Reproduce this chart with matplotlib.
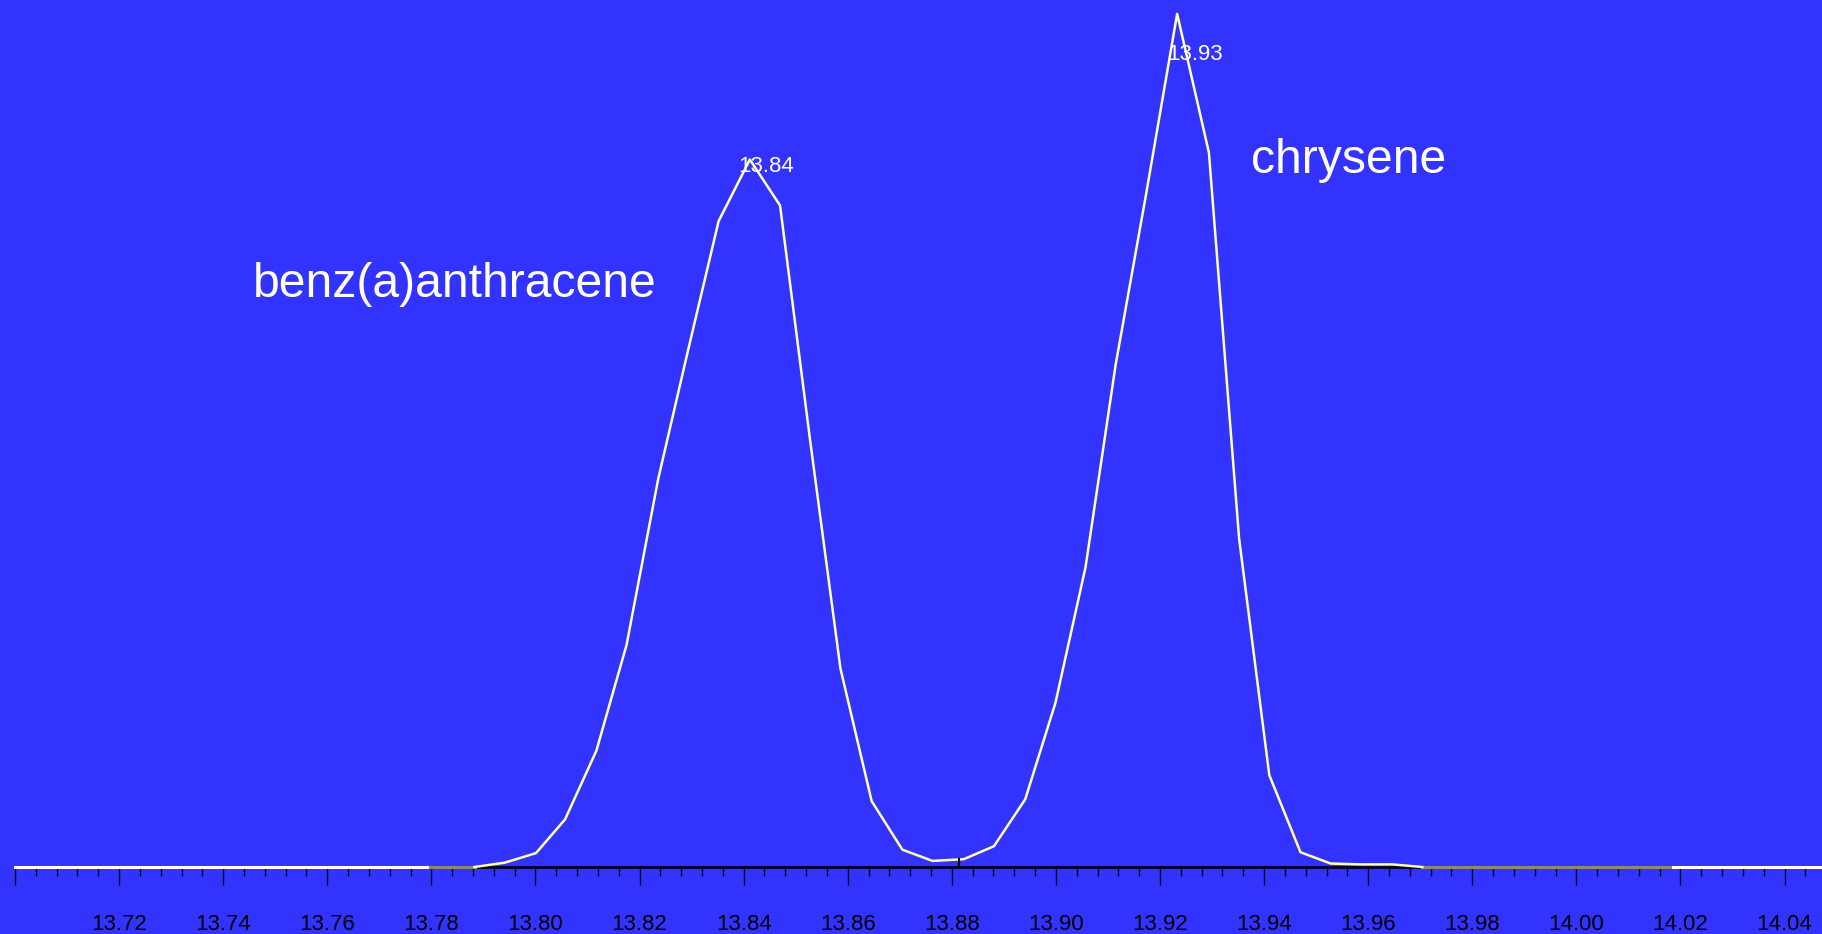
import matplotlib
matplotlib.use("Agg")
import matplotlib.pyplot as plt
from matplotlib.ticker import MultipleLocator, FixedLocator

# ---- data (retention time in min, abundance in arbitrary units) ----
times = [13.7798, 13.7883, 13.7941, 13.8001, 13.8057, 13.8117, 13.8175, 13.8236,
         13.8294, 13.8352, 13.8412, 13.8470, 13.8528, 13.8586, 13.8646, 13.8705,
         13.8763, 13.8823, 13.8881, 13.8941, 13.8999, 13.9057, 13.9115, 13.9173,
         13.9233, 13.9294, 13.9352, 13.9410, 13.9470, 13.9528, 13.9586, 13.9646,
         13.9704]
abund = [0, 0, 5, 16, 55, 134, 256, 448, 598, 745, 816, 763, 491, 229, 76, 20,
         7, 9, 24, 78, 189, 346, 580, 775, 984, 824, 379, 106, 17, 4, 3, 3, 0]

left_base_t = [13.70, 13.7798]
right_gray_t = [13.9704, 14.0185]
right_white_t = [14.0185, 14.0472]
base_zero = [0, 0]

valley_t = [13.8813, 13.8813]
valley_y = [0, 9]

peak_rt_labels = ["13.84", "13.93"]
peak_label_t = [13.8389, 13.9213]
peak_label_y = [808, 937]

compound_names = ["benz(a)anthracene", "chrysene"]
compound_t = [13.7457, 13.9374]
compound_y = [658, 801]

major_ticks = [13.70, 13.72, 13.74, 13.76, 13.78, 13.80, 13.82, 13.84, 13.86,
               13.88, 13.90, 13.92, 13.94, 13.96, 13.98, 14.00, 14.02, 14.04]
tick_labels = ["", "13.72", "13.74", "13.76", "13.78", "13.80", "13.82", "13.84",
               "13.86", "13.88", "13.90", "13.92", "13.94", "13.96", "13.98",
               "14.00", "14.02", "14.04"]

BG = "#3333ff"
TRACE = "#ffffa8"
GRAY = "#8a8a72"
WHITE = "#fffff0"

plt.rcParams['font.family'] = ['Liberation Sans', 'DejaVu Sans']

fig = plt.figure(figsize=(18.22, 9.34), dpi=100)
fig.patch.set_facecolor(BG)
ax = fig.add_axes([15 / 1822, (934 - 867) / 934, 1 - 15 / 1822, 867 / 934])
ax.set_facecolor(BG)

ax.set_xlim(13.70, 14.0472)
ax.set_ylim(0, 1000)

for s in ["top", "right", "left"]:
    ax.spines[s].set_visible(False)
ax.spines["bottom"].set_color("#000020")
ax.spines["bottom"].set_linewidth(2.0)
ax.spines["bottom"].set_zorder(2)

# baseline segments and trace
ax.plot(left_base_t, base_zero, color=WHITE, lw=2.2, zorder=4, clip_on=False)
ax.plot(times[:2], abund[:2], color=GRAY, lw=2.2, zorder=4, clip_on=False)
ax.plot(times[1:], abund[1:], color=TRACE, lw=1.8, zorder=5, clip_on=False)
ax.plot(right_gray_t, base_zero, color=GRAY, lw=2.2, zorder=4, clip_on=False)
ax.plot(right_white_t, base_zero, color=WHITE, lw=2.2, zorder=4, clip_on=False)

# valley integration marker
ax.plot(valley_t, valley_y, color="black", lw=1.5, zorder=6)

# peak RT labels
for lab, t, y in zip(peak_rt_labels, peak_label_t, peak_label_y):
    ax.text(t, y, lab, color="white", fontsize=16, ha="left", va="center", zorder=7)

# compound names
for name, t, y in zip(compound_names, compound_t, compound_y):
    ax.text(t, y, name, color="white", fontsize=34.7, ha="left", va="baseline", zorder=7)

ax.xaxis.set_major_locator(FixedLocator(major_ticks))
ax.set_xticklabels(tick_labels)
ax.xaxis.set_minor_locator(MultipleLocator(0.004))
ax.tick_params(axis="x", which="major", direction="out", length=12.8, width=1.0,
               color="#000020", labelsize=16, labelcolor="black", pad=21)
ax.tick_params(axis="x", which="minor", direction="out", length=6.3, width=1.0,
               color="#000020")
ax.set_yticks([])

fig.savefig("out.png", dpi=100, facecolor=BG)
